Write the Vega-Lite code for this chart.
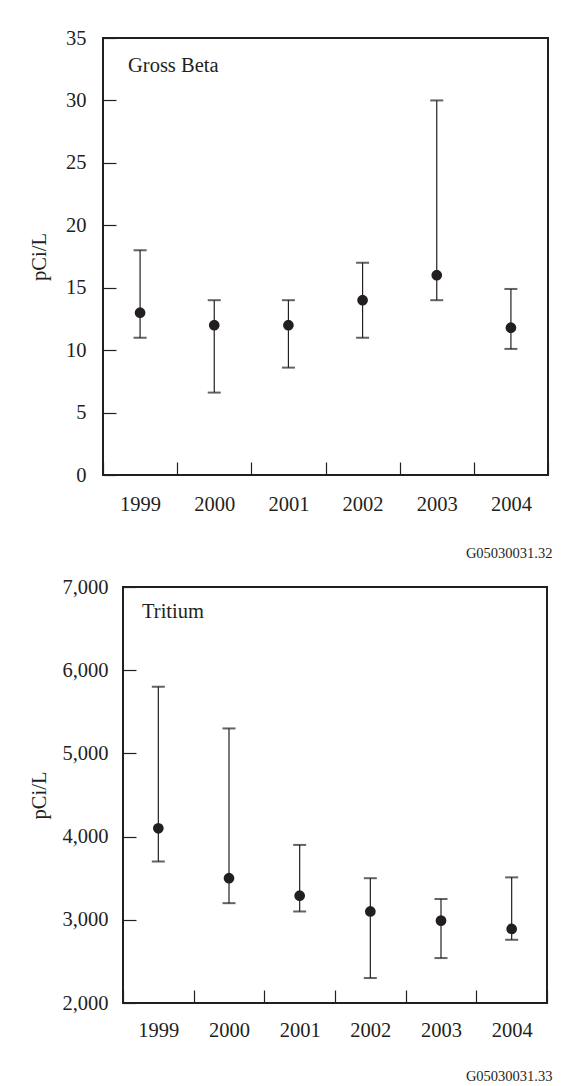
{
  "$schema": "https://vega.github.io/schema/vega-lite/v6.json",
  "background": "white",
  "padding": {"left": 27, "top": 27, "right": 0, "bottom": 0},
  "autosize": {"type": "pad"},
  "datasets": {
    "grossBeta": [
      {"year": "1999", "value": 13, "low": 11, "high": 18},
      {"year": "2000", "value": 12, "low": 6.6, "high": 14},
      {"year": "2001", "value": 12, "low": 8.6, "high": 14},
      {"year": "2002", "value": 14, "low": 11, "high": 17},
      {"year": "2003", "value": 16, "low": 14, "high": 30},
      {"year": "2004", "value": 11.8, "low": 10.1, "high": 14.9}
    ],
    "tritium": [
      {"year": "1999", "value": 4100, "low": 3700, "high": 5800},
      {"year": "2000", "value": 3500, "low": 3200, "high": 5300},
      {"year": "2001", "value": 3290, "low": 3100, "high": 3900},
      {"year": "2002", "value": 3100, "low": 2300, "high": 3500},
      {"year": "2003", "value": 2990, "low": 2540, "high": 3250},
      {"year": "2004", "value": 2890, "low": 2760, "high": 3510}
    ]
  },
  "config": {
    "font": "Liberation Serif",
    "view": {"stroke": "#231f20", "strokeWidth": 2},
    "axis": {
      "labelFont": "Liberation Serif",
      "labelFontSize": 20.5,
      "labelColor": "#231f20",
      "titleFont": "Liberation Serif",
      "titleFontSize": 20.5,
      "titleFontWeight": "normal",
      "titleColor": "#231f20",
      "domain": false,
      "grid": false,
      "tickColor": "#231f20",
      "tickWidth": 1.2
    },
    "axisX": {"tickSize": -13},
    "title": {
      "font": "Liberation Serif",
      "fontSize": 20.5,
      "fontWeight": "normal",
      "color": "#231f20"
    }
  },
  "vconcat": [
    {
      "spacing": 0,
      "hconcat": [
        {"width": 1, "height": 1, "data": {"values": []}, "mark": "point", "view": {"stroke": null}},
        {
          "width": 445,
          "height": 437,
          "title": {"text": "Gross Beta", "anchor": "start", "frame": "group", "offset": 0, "dx": 25, "dy": 64, "baseline": "alphabetic"},
          "data": {"name": "grossBeta"},
          "encoding": {
            "x": {
              "field": "year",
              "type": "ordinal",
              "scale": {"type": "band", "paddingInner": 0, "paddingOuter": 0},
              "axis": {
                "labelAngle": 0,
                "labelPadding": 32.5,
                "tickBand": "extent",
                "title": "G05030031.32",
                "titleFontSize": 14.5,
                "titleAlign": "right",
                "titleBaseline": "alphabetic",
                "titleX": 449,
                "titleY": 82
              }
            }
          },
          "layer": [
            {
              "mark": {"type": "rule", "color": "#231f20", "strokeWidth": 1.2},
              "encoding": {
                "y": {
                  "field": "low",
                  "type": "quantitative",
                  "scale": {"domain": [0, 35], "nice": false, "zero": false},
                  "axis": {"orient": "left", "values": [0, 5, 10, 15, 20, 25, 30, 35], "title": "pCi/L", "ticks": false, "tickSize": 0, "labelPadding": 17, "titlePadding": 16}
                },
                "y2": {"field": "high"}
              }
            },
            {
              "mark": {"type": "tick", "color": "#231f20", "size": 13, "thickness": 2, "orient": "horizontal"},
              "encoding": {
                "y": {
                  "field": "low",
                  "type": "quantitative",
                  "axis": {"orient": "left", "values": [0, 5, 10, 15, 20, 25, 30, 35], "title": null, "labels": false, "ticks": true, "tickSize": 13, "offset": -13}
                }
              }
            },
            {
              "mark": {"type": "tick", "color": "#231f20", "size": 13, "thickness": 2, "orient": "horizontal"},
              "encoding": {"y": {"field": "high", "type": "quantitative", "axis": null}}
            },
            {
              "mark": {"type": "point", "filled": true, "color": "#231f20", "opacity": 1, "size": 115},
              "encoding": {"y": {"field": "value", "type": "quantitative", "axis": null}}
            }
          ],
          "resolve": {"axis": {"y": "independent"}}
        }
      ]
    },
    {
      "spacing": 0,
      "hconcat": [
        {"width": 1, "height": 1, "data": {"values": []}, "mark": "point", "view": {"stroke": null}},
        {
          "width": 424,
          "height": 416,
          "title": {"text": "Tritium", "anchor": "start", "frame": "group", "offset": 0, "dx": 19, "dy": 61, "baseline": "alphabetic"},
          "data": {"name": "tritium"},
          "encoding": {
            "x": {
              "field": "year",
              "type": "ordinal",
              "scale": {"type": "band", "paddingInner": 0, "paddingOuter": 0},
              "axis": {
                "labelAngle": 0,
                "labelPadding": 30.5,
                "tickBand": "extent",
                "title": "G05030031.33",
                "titleFontSize": 14.5,
                "titleAlign": "right",
                "titleBaseline": "alphabetic",
                "titleX": 429,
                "titleY": 77
              }
            }
          },
          "layer": [
            {
              "mark": {"type": "rule", "color": "#231f20", "strokeWidth": 1.2},
              "encoding": {
                "y": {
                  "field": "low",
                  "type": "quantitative",
                  "scale": {"domain": [2000, 7000], "nice": false, "zero": false},
                  "axis": {"orient": "left", "values": [2000, 3000, 4000, 5000, 6000, 7000], "format": ",d", "title": "pCi/L", "ticks": false, "tickSize": 0, "labelPadding": 15, "titlePadding": 12}
                },
                "y2": {"field": "high"}
              }
            },
            {
              "mark": {"type": "tick", "color": "#231f20", "size": 13, "thickness": 2, "orient": "horizontal"},
              "encoding": {
                "y": {
                  "field": "low",
                  "type": "quantitative",
                  "axis": {"orient": "left", "values": [2000, 3000, 4000, 5000, 6000, 7000], "title": null, "labels": false, "ticks": true, "tickSize": 13, "offset": -13}
                }
              }
            },
            {
              "mark": {"type": "tick", "color": "#231f20", "size": 13, "thickness": 2, "orient": "horizontal"},
              "encoding": {"y": {"field": "high", "type": "quantitative", "axis": null}}
            },
            {
              "mark": {"type": "point", "filled": true, "color": "#231f20", "opacity": 1, "size": 115},
              "encoding": {"y": {"field": "value", "type": "quantitative", "axis": null}}
            }
          ],
          "resolve": {"axis": {"y": "independent"}}
        }
      ]
    }
  ],
  "bounds": "full",
  "spacing": 15
}
